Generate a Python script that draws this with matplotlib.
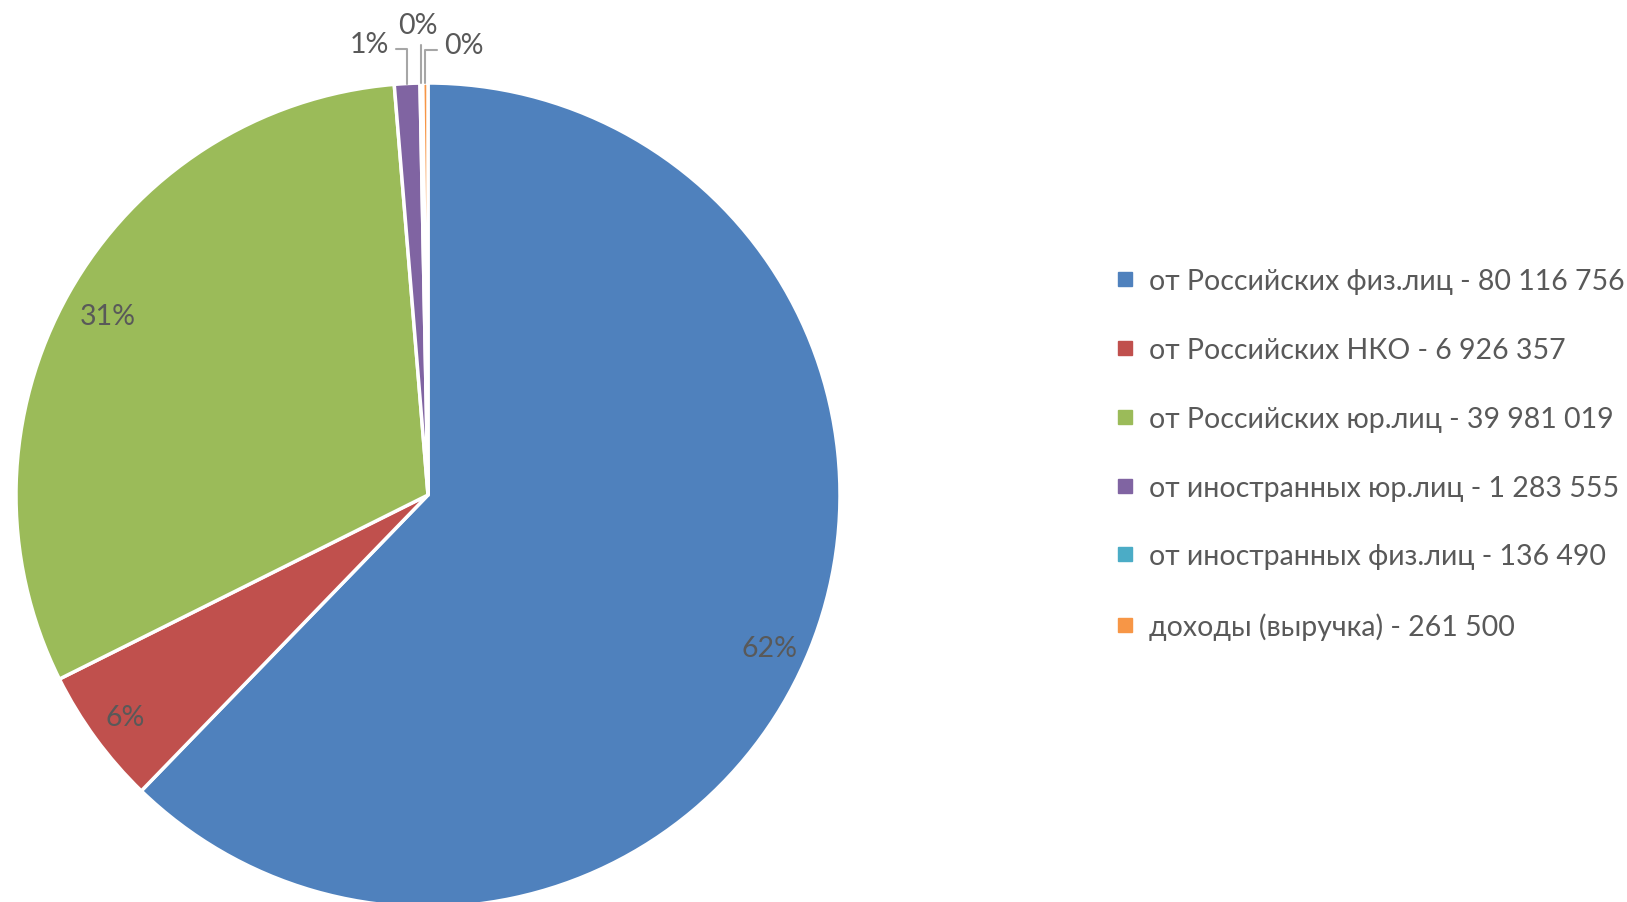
import matplotlib.pyplot as plt
import numpy as np
from matplotlib.lines import Line2D

plt.rcParams['font.family'] = ['Lato', 'DejaVu Sans']

# данные
categories = ["от Российских физ.лиц - 80 116 756",
              "от Российских НКО - 6 926 357",
              "от Российских юр.лиц - 39 981 019",
              "от иностранных юр.лиц - 1 283 555",
              "от иностранных физ.лиц - 136 490",
              "доходы (выручка) - 261 500"]
values = [80116756, 6926357, 39981019, 1283555, 136490, 261500]
pct_labels = ["62%", "6%", "31%", "1%", "0%", "0%"]
colors = ["#4F81BD", "#C0504D", "#9BBB59", "#8064A2", "#4BACC6", "#F79646"]
txt = "#595959"

W, H = 1627, 903
fig = plt.figure(figsize=(W / 100, H / 100), dpi=100)
cx, cy, r = 428, 496, 412
ax = fig.add_axes([(cx - r) / W, (H - cy - r) / H, 2 * r / W, 2 * r / H])
ax.axis('off')

wedges, _ = ax.pie(values, colors=colors, startangle=90, counterclock=False,
                   radius=1, wedgeprops=dict(edgecolor='white', linewidth=2.5))
ax.set_xlim(-1, 1)
ax.set_ylim(-1, 1)

# подписи внутри больших секторов
for w, lab in zip(wedges[:3], pct_labels[:3]):
    th = np.deg2rad((w.theta1 + w.theta2) / 2 - 1)
    ax.text(0.9 * np.cos(th), 0.9 * np.sin(th) - 0.02, lab, ha='center', va='center',
            fontsize=20.5, color=txt)

# подписи маленьких секторов с выносками
small = [(-0.143, 1.095, (1, 0.3)),
         (-0.024, 1.14, (0.55, 0)),
         (0.087, 1.092, (0, 0.3))]
for w, lab, (tx, ty, rp) in zip(wedges[3:], pct_labels[3:], small):
    th = np.deg2rad((w.theta1 + w.theta2) / 2)
    ex, ey = np.cos(th), np.sin(th)
    ax.annotate(lab, xy=(ex, ey), xytext=(tx, ty), ha='center', va='center',
                fontsize=20.5, color=txt, annotation_clip=False,
                arrowprops=dict(arrowstyle='-', color='#A6A6A6', lw=1.5,
                                relpos=rp, shrinkA=3, shrinkB=0,
                                connectionstyle='angle,angleA=0,angleB=90,rad=0'))

handles = [Line2D([], [], marker='s', linestyle='none', markersize=10,
                  markerfacecolor=c, markeredgecolor=c) for c in colors]
fig.legend(handles, categories, loc='upper left',
           bbox_to_anchor=(1106 / W, 1 - 258 / H), frameon=False,
           fontsize=20.5, labelcolor=txt, handlelength=0.55, handletextpad=0.55,
           labelspacing=1.5, borderaxespad=0)

fig.savefig('out.png', dpi=100)
